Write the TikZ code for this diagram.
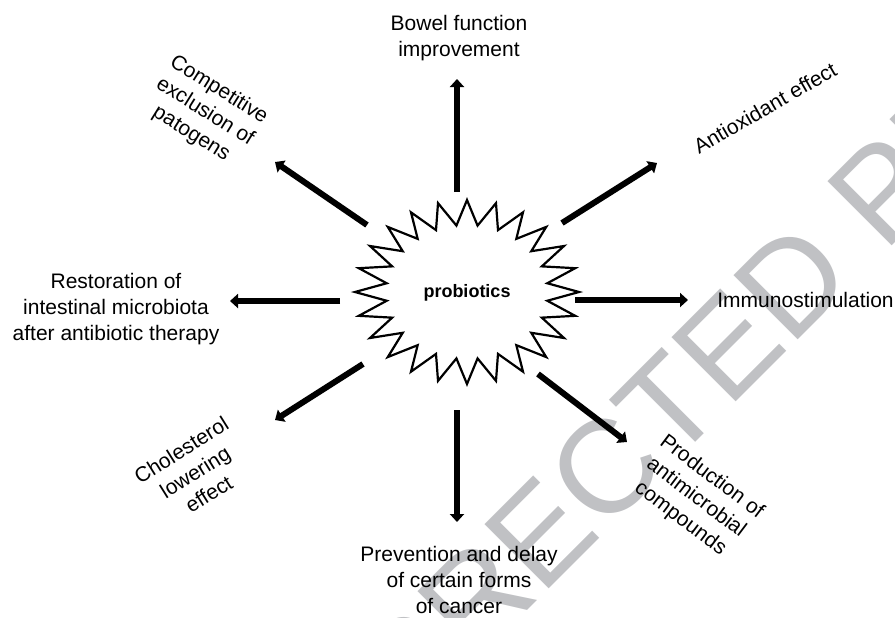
\documentclass[tikz,border=0pt]{standalone}
\usepackage{fontspec}
\setmainfont{Liberation Sans}
\usetikzlibrary{arrows.meta,positioning,calc}
\definecolor{wmgray}{RGB}{192,193,196}

\begin{document}
\begin{tikzpicture}[x=0.5pt,y=-0.5pt,
  arr/.style={-{Triangle[length=4pt,width=7pt]}, line width=3pt},
  lbl/.style={align=center, inner sep=0pt, font=\fontsize{10.5}{13}\selectfont},
  wmark/.style={inner sep=0pt, rotate=45, text=wmgray, font=\fontsize{66}{66}\selectfont}]
\useasboundingbox (0,0) rectangle (895,617);
% watermark
\begin{scope}
\clip (0,0) rectangle (895,617);
\node[wmark, anchor=base west] (wm2) at (884,254) {PROOF};
\node[wmark, anchor=base east] (wm1) at ($(wm2.base west)!-18.3pt!(wm2.base east)$) {UNCORRECTED};
\end{scope}

\node[lbl, font=\fontsize{9}{11}\selectfont\bfseries] (pro) at (467,293) {probiotics};
\draw[line width=1.1pt, shift={(467,292)}] (0:112 and 92)
  \foreach \a in {7.5,22.5,...,337.5} { -- (\a:81 and 67) -- (\a+7.5:112 and 92)}
  -- (352.5:81 and 67) -- cycle;

\node[lbl] (bowel) at (459,38) {Bowel function\\improvement};
\node[lbl, rotate=-32] (compet) at (205,112) {Competitive\\exclusion of\\patogens};
\node[lbl, rotate=30] (antiox) at (765,108) {Antioxidant effect};
\node[lbl, anchor=west] (immuno) at (717,300) {Immunostimulation};
\node[lbl] (restor) at (116,309) {Restoration of\\intestinal microbiota\\after antibiotic therapy};
\node[lbl, rotate=32] (chol) at (195,472) {Cholesterol\\lowering\\effect};
\node[lbl] (prevent) at (459,580) {Prevention and delay\\of certain forms\\of cancer};
\node[lbl, rotate=-37] (prod) at (696,498) {Production of\\antimicrobial\\compounds};

% arrows out of the burst
\foreach \n/\sx/\sy/\ex/\ey in {up/457/192/457/79, ul/367/225/275/162, ur/562/223/657/163,
    rt/575/300/688/300, lt/340/301/230/301, ll/363/364/275/420, dn/457/410/457/522,
    lr/538/374/627/442} {
  \coordinate (s-\n) at (\sx,\sy);
  \coordinate (e-\n) at (\ex,\ey);
  \draw[arr] (s-\n) -- (e-\n);
}
\end{tikzpicture}
\end{document}
